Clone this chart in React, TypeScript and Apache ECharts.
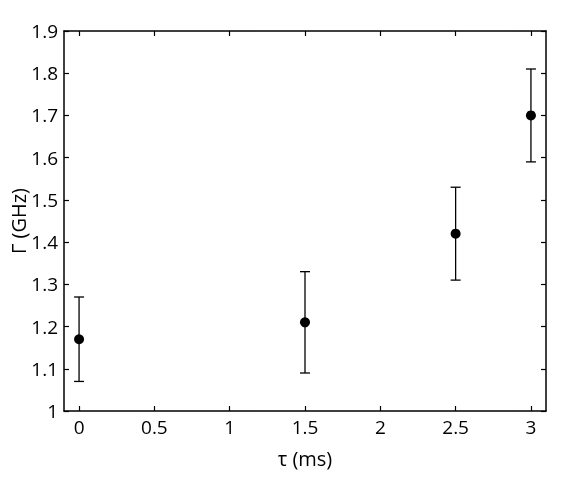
import React, { useEffect, useRef } from "react";
import * as echarts from "echarts";

const tau = [0, 1.5, 2.5, 3];
const gamma = [1.17, 1.21, 1.42, 1.7];
const errLow = [1.07, 1.09, 1.31, 1.59];
const errHigh = [1.27, 1.33, 1.53, 1.81];
const xTicks = [0, 0.5, 1, 1.5, 2, 2.5, 3];

const FONT = "'Open Sans', sans-serif";

export default function App() {
  const ref = useRef<HTMLDivElement>(null);
  useEffect(() => {
    if (!ref.current) return;
    const chart = echarts.init(ref.current, null, { renderer: "svg" });
    const axisLine = { show: true, onZero: false, lineStyle: { color: "#000", width: 1.5 } };
    const tickStyle = { color: "#000", width: 1.2 };
    const xBase = {
      type: "value" as const,
      min: -0.1,
      max: 3.1,
      splitLine: { show: false },
      axisLine,
    };
    const yBase = {
      type: "value" as const,
      min: 1,
      max: 1.9,
      interval: 0.1,
      splitLine: { show: false },
      axisLine,
    };
    chart.setOption({
      animation: false,
      grid: {
        left: 64,
        right: 18,
        top: 31,
        bottom: 66,
        containLabel: false,
        outerBoundsMode: "none",
      },
      xAxis: [
        {
          ...xBase,
          position: "bottom",
          axisTick: { inside: true, length: 5, customValues: xTicks, lineStyle: tickStyle },
          axisLabel: {
            customValues: xTicks,
            color: "#000",
            fontSize: 19,
            fontFamily: FONT,
            margin: 6,
            formatter: (v: number) => String(v),
          },
          name: "τ (ms)",
          nameLocation: "middle",
          nameGap: 37,
          nameMoveOverlap: false,
          nameTextStyle: { color: "#000", fontSize: 20, fontFamily: FONT, verticalAlign: "top" },
        },
        {
          ...xBase,
          position: "top",
          axisTick: { inside: true, length: 5, customValues: xTicks, lineStyle: tickStyle },
          axisLabel: { show: false },
        },
      ],
      yAxis: [
        {
          ...yBase,
          position: "left",
          axisTick: { inside: true, length: 5, lineStyle: tickStyle },
          axisLabel: {
            color: "#000",
            fontSize: 19,
            fontFamily: FONT,
            margin: 6,
            formatter: (v: number) => String(Math.round(v * 10) / 10),
          },
          name: "Γ (GHz)",
          nameLocation: "middle",
          nameGap: 36,
          nameMoveOverlap: false,
          nameTextStyle: { color: "#000", fontSize: 20, fontFamily: FONT },
        },
        {
          ...yBase,
          position: "right",
          axisTick: { inside: true, length: 5, lineStyle: tickStyle },
          axisLabel: { show: false },
        },
      ],
      series: [
        {
          type: "custom",
          xAxisIndex: 0,
          yAxisIndex: 0,
          data: tau.map((t, i) => [t, errLow[i], errHigh[i]]),
          renderItem: (params: any, api: any) => {
            const x = api.value(0);
            const lo = api.coord([x, api.value(1)]);
            const hi = api.coord([x, api.value(2)]);
            const w = 5;
            const style = { stroke: "#000", lineWidth: 1.3 };
            return {
              type: "group",
              children: [
                { type: "line", shape: { x1: lo[0], y1: lo[1], x2: hi[0], y2: hi[1] }, style },
                { type: "line", shape: { x1: hi[0] - w, y1: hi[1], x2: hi[0] + w, y2: hi[1] }, style },
                { type: "line", shape: { x1: lo[0] - w, y1: lo[1], x2: lo[0] + w, y2: lo[1] }, style },
              ],
            };
          },
          z: 2,
        },
        {
          type: "scatter",
          xAxisIndex: 0,
          yAxisIndex: 0,
          data: tau.map((t, i) => [t, gamma[i]]),
          symbol: "circle",
          symbolSize: 10,
          itemStyle: { color: "#000", opacity: 1 },
          z: 3,
        },
      ],
    });
    return () => chart.dispose();
  }, []);
  return (
    <div
      ref={ref}
      style={{ position: "fixed", left: 0, top: 0, width: 564, height: 477 }}
    />
  );
}
